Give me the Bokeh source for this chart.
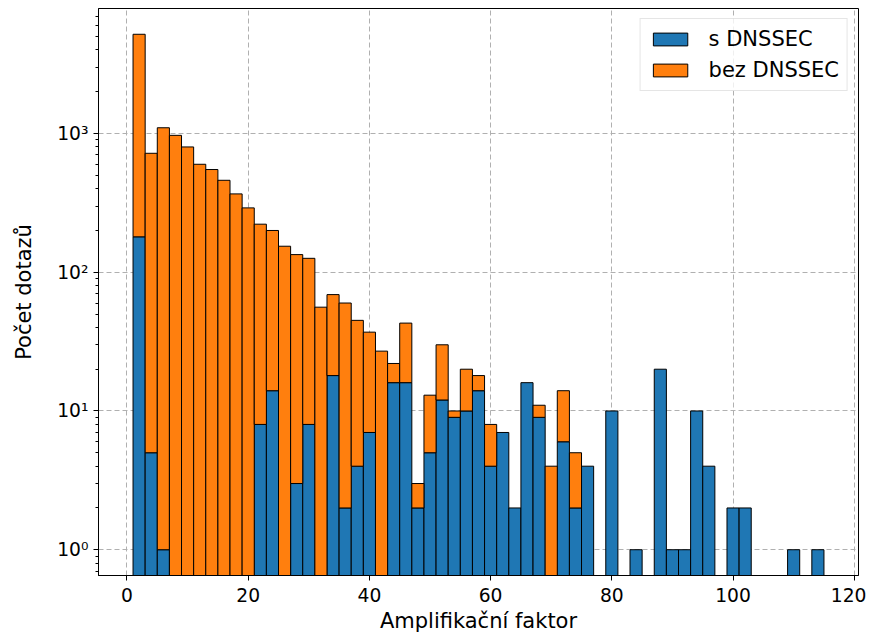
import numpy as np
from bokeh.plotting import figure
from bokeh.models import Range1d, FixedTicker, Legend, LegendItem, CustomJSTickFormatter
from bokeh.embed import file_html
from bokeh.resources import INLINE

# Histogram bins: width 2, from 1 to 115
bin_start = 1
bin_width = 2
n_bins = 57

# stacked totals (s DNSSEC + bez DNSSEC) per bin
total = [5190, 720, 1100, 970, 800, 600, 550, 460, 367, 291,
         222, 200, 154, 134, 126, 56, 69, 60, 45, 37,
         27, 22, 43, 3, 13, 30, 10, 20, 18, 8,
         7, 2, 16, 11, 4, 14, 5, 4, 0, 10,
         0, 1, 0, 20, 1, 1, 10, 4, 0, 2,
         2, 0, 0, 0, 1, 0, 1]
# s DNSSEC counts per bin
s_dnssec = [180, 5, 1, 0, 0, 0, 0, 0, 0, 0,
            8, 14, 0, 3, 8, 0, 18, 2, 4, 7,
            0, 16, 16, 2, 5, 12, 9, 10, 14, 4,
            7, 2, 16, 9, 0, 6, 2, 4, 0, 10,
            0, 1, 0, 20, 1, 1, 10, 4, 0, 2,
            2, 0, 0, 0, 1, 0, 1]

x_ticks = [0, 20, 40, 60, 80, 100, 120]
y_ticks = [1, 10, 100, 1000]

edges = bin_start + bin_width * np.arange(n_bins + 1)
left = edges[:-1]
right = edges[1:]
tot = np.array(total, dtype=float)
blue = np.array(s_dnssec, dtype=float)

xmin, xmax = edges[0], edges[-1]
xm = 0.05 * (xmax - xmin)
ly = np.log10(tot.max())
ym = 0.05 * ly

p = figure(width=866, height=643, output_backend="svg", toolbar_location=None,
           y_axis_type="log",
           x_range=Range1d(xmin - xm, xmax + xm),
           y_range=Range1d(10 ** (-ym), 10 ** (ly + ym)),
           min_border_left=98, min_border_right=8, min_border_top=8, min_border_bottom=68)

mb = blue > 0
rb = p.quad(left=left[mb], right=right[mb], bottom=1e-3, top=blue[mb],
            fill_color="#1f77b4", line_color="black", line_width=1)
mo = tot > blue
bot = np.where(blue[mo] > 0, blue[mo], 1e-3)
ro = p.quad(left=left[mo], right=right[mo], bottom=bot, top=tot[mo],
            fill_color="#ff7f0e", line_color="black", line_width=1)

p.xaxis.ticker = FixedTicker(ticks=x_ticks)
minor = []
for d in [0.1, 1, 10, 100, 1000]:
    for k in range(2, 10):
        minor.append(k * d)
p.yaxis.ticker = FixedTicker(ticks=y_ticks, minor_ticks=minor)
p.yaxis.formatter = CustomJSTickFormatter(code="""
const sup = {'0':'\u2070','1':'\u00b9','2':'\u00b2','3':'\u00b3','4':'\u2074','5':'\u2075','6':'\u2076','7':'\u2077','8':'\u2078','9':'\u2079','-':'\u207b'};
const e = Math.round(Math.log10(tick)).toString();
return '10' + e.split('').map(c => sup[c]).join('');
""")

for ax in [p.xaxis, p.yaxis]:
    ax.axis_line_color = "black"
    ax.major_tick_line_color = "black"
    ax.major_tick_out = 5
    ax.major_tick_in = 0
    ax.minor_tick_out = 3
    ax.minor_tick_in = 0
    ax.major_label_text_font = "DejaVu Sans"
    ax.major_label_text_font_size = "18.7px"
    ax.major_label_text_color = "black"
    ax.axis_label_text_font = "DejaVu Sans"
    ax.axis_label_text_font_size = "21px"
    ax.axis_label_text_font_style = "normal"
    ax.axis_label_text_color = "black"
p.xaxis.minor_tick_line_color = None
p.yaxis.minor_tick_line_color = "black"
p.xaxis.axis_label = "Amplifikační faktor"
p.yaxis.axis_label = "Počet dotazů"
p.xaxis.major_label_standoff = 7
p.yaxis.major_label_standoff = 5
p.xaxis.axis_label_standoff = 4
p.yaxis.axis_label_standoff = 18

p.outline_line_color = "black"
p.outline_line_width = 1
for g in [p.xgrid, p.ygrid]:
    g.grid_line_color = "#b0b0b0"
    g.grid_line_dash = "5 3"
    g.grid_line_width = 1
p.ygrid.minor_grid_line_color = None

legend = Legend(items=[LegendItem(label="s DNSSEC", renderers=[rb]),
                       LegendItem(label="bez DNSSEC", renderers=[ro])],
                location="top_right")
legend.label_text_font = "DejaVu Sans"
legend.label_text_font_size = "21px"
legend.label_text_color = "black"
legend.glyph_width = 43
legend.glyph_height = 16
legend.label_height = 20
legend.spacing = 7
legend.padding = 8
legend.margin = 10
legend.label_standoff = 17
legend.border_line_color = "#cccccc"
legend.background_fill_alpha = 0.8
p.add_layout(legend, "center")

open("out.html", "w").write(file_html(p, INLINE))
